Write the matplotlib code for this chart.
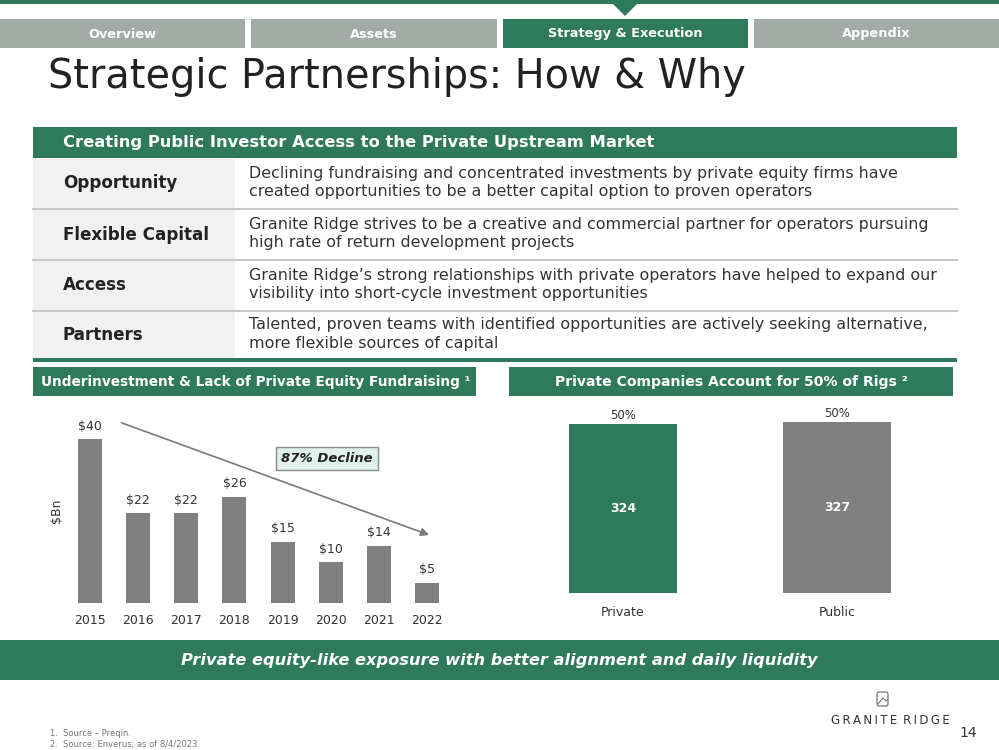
import matplotlib
matplotlib.use("Agg")
import matplotlib.pyplot as plt
from matplotlib.patches import Rectangle, Polygon, FancyBboxPatch

GREEN = "#2f7a5c"
TAB_GRAY = "#a4aba7"
BAR_GRAY = "#808080"
DARK = "#222222"
TEXT = "#333333"
FONT = ["DejaVu Sans"]

W, H = 999, 750

# ---- data ----
tabs = ["Overview", "Assets", "Strategy & Execution", "Appendix"]
active_tab = 2

row_labels = ["Opportunity", "Flexible Capital", "Access", "Partners"]
row_texts = [
    "Declining fundraising and concentrated investments by private equity firms have\n"
    "created opportunities to be a better capital option to proven operators",
    "Granite Ridge strives to be a creative and commercial partner for operators pursuing\n"
    "high rate of return development projects",
    "Granite Ridge\u2019s strong relationships with private operators have helped to expand our\n"
    "visibility into short-cycle investment opportunities",
    "Talented, proven teams with identified opportunities are actively seeking alternative,\n"
    "more flexible sources of capital",
]

years = ["2015", "2016", "2017", "2018", "2019", "2020", "2021", "2022"]
fundraising = [40, 22, 22, 26, 15, 10, 14, 5]
fund_labels = ["$40", "$22", "$22", "$26", "$15", "$10", "$14", "$5"]

rig_cats = ["Private", "Public"]
rig_counts = [324, 327]
rig_share = ["50%", "50%"]

plt.rcParams["font.family"] = FONT

fig = plt.figure(figsize=(W / 100, H / 100), dpi=100)
bg = fig.add_axes([0, 0, 1, 1])
bg.set_xlim(0, W)
bg.set_ylim(H, 0)
bg.axis("off")


def rect(x0, y0, x1, y1, color, **kw):
    bg.add_patch(Rectangle((x0, y0), x1 - x0, y1 - y0, facecolor=color,
                           edgecolor="none", **kw))


# top bar + pointer
rect(0, 0, W, 4, GREEN)
bg.add_patch(Polygon([(612, 3), (638, 3), (625, 16)], closed=True,
                     facecolor=GREEN, edgecolor="none"))

# tabs
tab_x = [(0, 245), (251, 497), (503, 748), (754, W)]
for i, (name, (x0, x1)) in enumerate(zip(tabs, tab_x)):
    rect(x0, 19, x1, 48, GREEN if i == active_tab else TAB_GRAY)
    bg.text((x0 + x1) / 2, 34, name, ha="center", va="center",
            color="white", fontsize=9.3, fontweight="bold")

# title
bg.text(48, 77, "Strategic Partnerships: How & Why", ha="left", va="center",
        fontsize=28.6, color=DARK)

# table
rect(33, 127, 957, 158, GREEN)
bg.text(63, 143, "Creating Public Investor Access to the Private Upstream Market",
        ha="left", va="center", color="white", fontsize=11.8, fontweight="bold")
row_y = [(159, 208), (210, 259), (261, 310), (312, 358)]
for lab, txt, (y0, y1) in zip(row_labels, row_texts, row_y):
    rect(33, y0, 235, y1, "#f1f1f1")
    ym = (y0 + y1) / 2
    bg.text(63, ym, lab, ha="left", va="center", color=DARK,
            fontsize=12.1, fontweight="bold")
    bg.text(249, ym - 1, txt, ha="left", va="center", color=TEXT,
            fontsize=11.4, linespacing=1.3)
for y in [209, 260, 311]:
    bg.plot([33, 957], [y, y], color="#c8c8c8", lw=1.5)
rect(33, 358, 957, 362, GREEN)

# section headers
rect(33, 367, 476, 396, GREEN)
bg.text(256, 382, "Underinvestment & Lack of Private Equity Fundraising \u00b9",
        ha="center", va="center", color="white", fontsize=9.85, fontweight="bold")
rect(509, 367, 953, 396, GREEN)
bg.text(731, 382, "Private Companies Account for 50% of Rigs \u00b2",
        ha="center", va="center", color="white", fontsize=10.1, fontweight="bold")

# bottom banner
rect(0, 640, W, 680, GREEN)
bg.text(W / 2, 660, "Private equity-like exposure with better alignment and daily liquidity",
        ha="center", va="center", color="white", fontsize=11.7,
        fontweight="bold", fontstyle="italic")

# footer
bg.text(50, 733, "1.  Source \u2013 Preqin.", fontsize=6, color="#777777",
        ha="left", va="center")
bg.text(50, 744, "2.  Source: Enverus; as of 8/4/2023.", fontsize=6,
        color="#777777", ha="left", va="center")
bg.text(968, 733, "14", fontsize=10, color=TEXT, ha="center", va="center")
bg.text(890, 720, "\u2009".join("GRANITE") + "\u2002" + "\u2009".join("RIDGE"),
        fontsize=8.5, color=TEXT, ha="center", va="center")
bg.add_patch(FancyBboxPatch((877, 692), 11, 14, boxstyle="round,pad=0,rounding_size=2",
                            facecolor="none", edgecolor="#666666", lw=0.8))
bg.plot([878, 883, 886, 888], [704, 698, 701, 699], color="#666666", lw=0.7)


def px_axes(x0, y0, x1, y1):
    ax = fig.add_axes([x0 / W, 1 - y1 / H, (x1 - x0) / W, (y1 - y0) / H])
    ax.patch.set_alpha(0)
    for s in ax.spines.values():
        s.set_visible(False)
    return ax


# left chart: PE fundraising
ax1 = px_axes(66, 419, 451, 603)
xs = list(range(len(years)))
ax1.bar(xs, fundraising, width=0.5, color=BAR_GRAY)
for x, v, lab in zip(xs, fundraising, fund_labels):
    ax1.text(x, v + 1.6, lab, ha="center", va="bottom", fontsize=9, color=TEXT)
ax1.set_xlim(-0.5, len(years) - 0.5)
ax1.set_ylim(0, 45)
ax1.set_yticks([])
ax1.set_xticks(xs)
ax1.set_xticklabels(years, fontsize=9, color=TEXT)
ax1.tick_params(axis="x", length=0, pad=8)
ax1.set_ylabel("$Bn", fontsize=9, color=TEXT, labelpad=2)
ax1.annotate("", xy=(7.1, 16.4), xytext=(0.6, 44.3),
             arrowprops=dict(arrowstyle="-|>", color="#7a7a7a", lw=1.2,
                             mutation_scale=12), annotation_clip=False)
ax1.text(4.92, 35.3, "87% Decline", ha="center", va="center", fontsize=9.5,
         fontweight="bold", fontstyle="italic", color=DARK,
         bbox=dict(boxstyle="square,pad=0.4", facecolor="#dff1ea",
                   edgecolor="#8a8a8a", lw=1))

# right chart: rigs
ax2 = px_axes(516, 405, 944, 593)
xr = list(range(len(rig_cats)))
ax2.bar(xr, rig_counts, width=0.505, color=[GREEN, BAR_GRAY])
for x, v, s in zip(xr, rig_counts, rig_share):
    ax2.text(x, v + 4, s, ha="center", va="bottom", fontsize=8.5, color=TEXT)
    ax2.text(x, v / 2, str(v), ha="center", va="center", fontsize=9,
             color="white", fontweight="bold")
ax2.set_xlim(-0.5, len(rig_cats) - 0.5)
ax2.set_ylim(0, 360)
ax2.set_yticks([])
ax2.set_xticks(xr)
ax2.set_xticklabels(rig_cats, fontsize=9, color=TEXT)
ax2.tick_params(axis="x", length=0, pad=9)

fig.savefig("out.png", dpi=100)
